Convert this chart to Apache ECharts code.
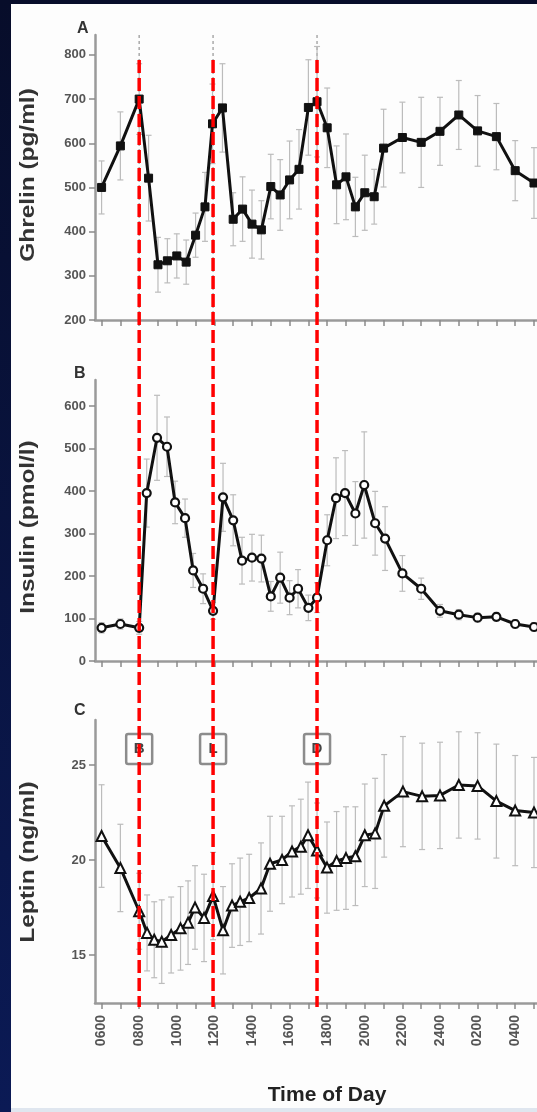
<!DOCTYPE html>
<html><head><meta charset="utf-8">
<script src="https://cdn.jsdelivr.net/npm/echarts@6/dist/echarts.min.js"></script>
<style>
html,body{margin:0;padding:0;width:537px;height:1112px;overflow:hidden;background:linear-gradient(#070d2a,#0b1a55);}
#frame{position:absolute;left:11px;top:4px;width:526px;height:1104px;background:#fdfdfd;}
#strip{position:absolute;left:11px;top:1108px;width:526px;height:4px;background:#dfe6ef;}
#chart{width:526px;height:1104px;}
</style></head>
<body>
<div id="frame"><div id="chart"></div></div><div id="strip"></div>
<script>
// ---- data (hours of day; 24+ = next morning) ----
const timeLabels = ['0600','0800','1000','1200','1400','1600','1800','2000','2200','2400','0200','0400'];
const labelHours = [6,8,10,12,14,16,18,20,22,24,26,28];
const tickHours = [6,7,8,9,10,11,12,13,14,15,16,17,18,19,20,21,22,23,24,25,26,27,28,29];
const mealTimes = [8, 11.93, 17.46];
const mealLetters = ['B','L','D'];

const ghrelinTime = [6,7,8,8.5,9,9.5,10,10.5,11,11.5,11.9,12.43,13,13.5,14,14.5,15,15.5,16,16.5,17,17.46,18,18.5,19,19.5,20,20.5,21,22,23,24,25,26,27,28,29];
const ghrelinVal  = [500,594,700,521,325,334,345,331,392,456,644,680,428,451,417,404,502,483,517,541,681,694,635,506,524,456,488,479,589,613,602,627,664,628,615,538,510];
const ghrelinErr  = [60,77,80,97,62,50,50,50,50,78,90,100,60,73,77,66,73,80,88,90,108,125,90,88,97,67,85,62,88,80,102,77,78,80,75,68,80];

const insulinTime = [6,7,8,8.4,8.95,9.48,9.91,10.44,10.87,11.4,11.93,12.46,13,13.47,14,14.5,15,15.5,16,16.45,17,17.46,18,18.47,18.95,19.5,19.97,20.55,21.08,22,23,24,25,26,27,28,29];
const insulinVal  = [78,87,78,395,525,504,373,336,213,170,118,385,331,236,243,241,152,196,149,170,125,149,284,383,395,347,414,324,288,206,170,118,109,102,104,87,80];
const insulinErr  = [12,12,15,80,100,70,50,45,40,35,20,80,60,55,55,55,35,60,40,45,30,35,60,95,100,75,125,75,75,42,25,15,12,10,10,10,10];

const leptinTime = [6,7,8,8.42,8.8,9.2,9.7,10.2,10.6,10.97,11.45,11.93,12.46,12.94,13.37,13.85,14.48,14.96,15.6,16.13,16.6,16.98,17.46,17.99,18.5,19,19.5,20,20.55,21.03,22.03,23.05,24,25,26,27,28,29];
const leptinVal  = [21.26,19.58,17.3,16.16,15.8,15.7,16.05,16.4,16.7,17.5,16.95,18.1,16.3,17.6,17.8,18.0,18.5,19.8,20.0,20.45,20.7,21.3,20.5,19.6,19.95,20.1,20.2,21.3,21.4,22.85,23.6,23.35,23.4,23.95,23.9,23.1,22.6,22.5];
const leptinErr  = [2.7,2.3,2.0,2.0,2.0,2.2,2.0,2.2,2.2,2.2,2.3,2.3,2.3,2.2,2.3,2.3,2.4,2.5,2.3,2.4,2.5,2.8,2.5,2.4,2.6,2.7,2.6,2.7,2.9,2.7,2.9,2.8,2.8,2.8,2.8,3.0,2.9,2.9];

const ghrelinTicks = [200,300,400,500,600,700,800];
const insulinTicks = [0,100,200,300,400,500,600];
const leptinTicks = [15,20,25];
const mealBoxLevel = 25.84;

// ---- build ----
const FONT = 'Liberation Sans, Arial, sans-serif';
const X_MIN = 5.65, X_MAX = 29.16;
const zip = (t, v) => t.map((x, i) => [x, v[i]]);
const zip3 = (t, v, e) => t.map((x, i) => [x, v[i], e[i]]);

function errRender(params, api) {
  const x = api.value(0), y = api.value(1), e = api.value(2);
  const a = api.coord([x, y + e]), b = api.coord([x, y - e]);
  const w = 3;
  const st = {stroke: '#bcbcbc', lineWidth: 1.2};
  return {type: 'group', children: [
    {type: 'line', shape: {x1: a[0], y1: a[1], x2: b[0], y2: b[1]}, style: st},
    {type: 'line', shape: {x1: a[0] - w, y1: a[1], x2: a[0] + w, y2: a[1]}, style: st},
    {type: 'line', shape: {x1: b[0] - w, y1: b[1], x2: b[0] + w, y2: b[1]}, style: st}
  ]};
}

function xAxisCfg(idx, showLabels) {
  return {
    type: 'value', gridIndex: idx, min: X_MIN, max: X_MAX,
    axisLine: {show: true, onZero: false, lineStyle: {color: '#9a9a9a', width: 2.5}},
    axisTick: {show: true, length: 6, customValues: tickHours, lineStyle: {color: '#8a8a8a', width: 1.5}},
    splitLine: {show: false},
    axisLabel: showLabels ? {
      show: true, customValues: labelHours, rotate: 90, margin: 12,
      fontFamily: FONT, fontSize: 14, fontWeight: 'bold', color: '#555',
      formatter: v => timeLabels[labelHours.indexOf(v)]
    } : {show: false}
  };
}
function yAxisCfg(idx, min, max, ticks) {
  return {
    type: 'value', gridIndex: idx, min: min, max: max,
    axisLine: {show: true, onZero: false, lineStyle: {color: '#9a9a9a', width: 2.5}},
    axisTick: {show: true, length: 6, customValues: ticks, lineStyle: {color: '#8a8a8a', width: 1.5}},
    splitLine: {show: false},
    axisLabel: {show: true, customValues: ticks, margin: 9, fontFamily: FONT, fontSize: 13, fontWeight: 'bold', color: '#555'}
  };
}

const chart = echarts.init(document.getElementById('chart'), null, {renderer: 'canvas'});

function vTitle(text, cx, cy) {
  return {type: 'text', x: cx, y: cy, rotation: Math.PI / 2, scaleX: 1.22, scaleY: 1,
    style: {text: text, font: 'bold 20px ' + FONT, fill: '#333', align: 'center', verticalAlign: 'middle'}};
}

chart.setOption({
  animation: false,
  backgroundColor: 'transparent',
  grid: [
    {left: 84, right: 0, top: 31, height: 285},
    {left: 84, right: 0, top: 376, height: 281},
    {left: 84, right: 0, top: 716, height: 283},
    {left: 84, right: 0, top: 56, height: 947}
  ],
  xAxis: [xAxisCfg(0, false), xAxisCfg(1, false), xAxisCfg(2, true),
    {type: 'value', gridIndex: 3, min: X_MIN, max: X_MAX, show: false}],
  yAxis: [yAxisCfg(0, 200, 845, ghrelinTicks), yAxisCfg(1, 0, 661, insulinTicks), yAxisCfg(2, 12.47, 27.37, leptinTicks),
    {type: 'value', gridIndex: 3, min: 0, max: 1, show: false}],
  title: [
    {text: 'A', left: 61, top: 12, textStyle: {fontFamily: FONT, fontSize: 16, fontWeight: 'bold', color: '#333'}},
    {text: 'B', left: 58, top: 357, textStyle: {fontFamily: FONT, fontSize: 16, fontWeight: 'bold', color: '#333'}},
    {text: 'C', left: 58, top: 694, textStyle: {fontFamily: FONT, fontSize: 16, fontWeight: 'bold', color: '#333'}}
  ],
  graphic: [
    vTitle('Ghrelin (pg/ml)', 17, 171),
    vTitle('Insulin (pmol/l)', 17, 523),
    vTitle('Leptin (ng/ml)', 17, 858),
    {type: 'text', x: 316, y: 1091, style: {text: 'Time of Day', font: 'bold 21px ' + FONT, fill: '#222', align: 'center', verticalAlign: 'middle'}}
  ],
  series: [
    {type: 'custom', xAxisIndex: 0, yAxisIndex: 0, data: mealTimes.map(t => [t, 500]), encode: {x: 0, y: 1}, z: 1,
      renderItem: (p, api) => { const t = api.value(0); const a = api.coord([t, 845]); const b = api.coord([t, 200]);
        return {type: 'line', shape: {x1: a[0], y1: a[1], x2: b[0], y2: b[1]}, style: {stroke: '#aaa', lineWidth: 1.5, lineDash: [3, 3]}}; }},
    {type: 'custom', xAxisIndex: 0, yAxisIndex: 0, data: zip3(ghrelinTime, ghrelinVal, ghrelinErr), encode: {x: 0, y: 1}, renderItem: errRender, z: 2},
    {type: 'custom', xAxisIndex: 1, yAxisIndex: 1, data: zip3(insulinTime, insulinVal, insulinErr), encode: {x: 0, y: 1}, renderItem: errRender, z: 2},
    {type: 'custom', xAxisIndex: 2, yAxisIndex: 2, data: zip3(leptinTime, leptinVal, leptinErr), encode: {x: 0, y: 1}, renderItem: errRender, z: 2},
    {name: 'Ghrelin', type: 'line', xAxisIndex: 0, yAxisIndex: 0, data: zip(ghrelinTime, ghrelinVal), z: 3,
      symbol: 'rect', symbolSize: 8, showAllSymbol: true,
      lineStyle: {color: '#111', width: 3}, itemStyle: {color: '#111', borderColor: '#111', borderWidth: 1}},
    {name: 'Insulin', type: 'line', xAxisIndex: 1, yAxisIndex: 1, data: zip(insulinTime, insulinVal), z: 3,
      symbol: 'circle', symbolSize: 8, showAllSymbol: true,
      lineStyle: {color: '#111', width: 3}, itemStyle: {color: '#fff', borderColor: '#111', borderWidth: 2.2}},
    {name: 'Leptin', type: 'line', xAxisIndex: 2, yAxisIndex: 2, data: zip(leptinTime, leptinVal), z: 3,
      symbol: 'triangle', symbolSize: 10, showAllSymbol: true,
      lineStyle: {color: '#111', width: 3}, itemStyle: {color: '#fff', borderColor: '#111', borderWidth: 2}},
    {type: 'custom', xAxisIndex: 2, yAxisIndex: 2, data: mealTimes.map((t, i) => [t, mealBoxLevel, i]), encode: {x: 0, y: 1}, z: 4,
      renderItem: (p, api) => { const c = api.coord([api.value(0), api.value(1)]); const i = api.value(2);
        return {type: 'group', children: [
          {type: 'rect', shape: {x: c[0] - 13, y: c[1] - 15, width: 26, height: 30, r: 2}, style: {fill: '#fdfdfd', stroke: '#8c8c8c', lineWidth: 2.5}},
          {type: 'text', x: c[0], y: c[1], style: {text: mealLetters[i], font: 'bold 15px ' + FONT, fill: '#444', align: 'center', verticalAlign: 'middle'}}
        ]}; }},
    {type: 'custom', xAxisIndex: 3, yAxisIndex: 3, data: mealTimes.map(t => [t, 0.5]), encode: {x: 0, y: 1}, z: 10,
      renderItem: (p, api) => { const t = api.value(0); const a = api.coord([t, 1]); const b = api.coord([t, 0]);
        return {type: 'line', shape: {x1: a[0], y1: a[1], x2: b[0], y2: b[1]}, style: {stroke: '#ff0000', lineWidth: 3.5, lineDash: [13, 5]}}; }}
  ]
});
</script>
</body></html>
